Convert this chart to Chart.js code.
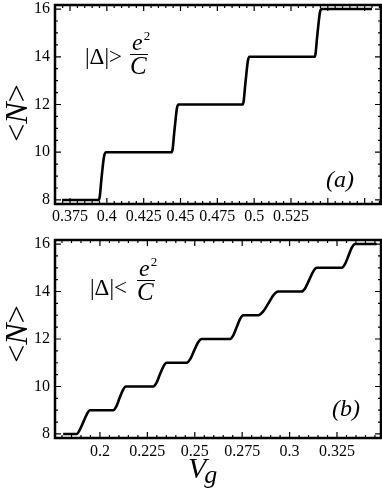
<!DOCTYPE html>
<html><head><meta charset="utf-8">
<script src="https://cdn.jsdelivr.net/npm/chart.js@4.4.0/dist/chart.umd.min.js"></script>
<style>
html,body{margin:0;padding:0;background:#fff;}
#wrap{position:relative;width:382px;height:490px;}
canvas{position:absolute;left:0;}
#chartA{top:0;}
#chartB{top:235px;}
</style></head><body>
<div id="wrap">
<canvas id="chartA" width="382" height="235"></canvas>
<canvas id="chartB" width="382" height="255"></canvas>
</div>
<script>
// panel (a): |Delta| > e^2/C, steps of 2
const vgA = [0.3696, 0.3945, 0.3952, 0.3962, 0.3972, 0.3982, 0.3994,
  0.4440, 0.4447, 0.4457, 0.4467, 0.4476, 0.4486,
  0.4922, 0.4929, 0.4939, 0.4949, 0.4958, 0.4968,
  0.5410, 0.5417, 0.5427, 0.5437, 0.5446, 0.5456, 0.5800];
const nA = [8, 8, 8.15, 8.8, 9.4, 9.85, 10,
  10, 10.15, 10.8, 11.4, 11.85, 12,
  12, 12.15, 12.8, 13.4, 13.85, 14,
  14, 14.15, 14.8, 15.4, 15.85, 16, 16];

// panel (b): |Delta| < e^2/C, steps of 1
const vgB = [0.1806, 0.1877, 0.1892, 0.1912, 0.1932, 0.1947,
  0.2070, 0.2086, 0.2103, 0.2121, 0.2137,
  0.2281, 0.2298, 0.2316, 0.2335, 0.2352,
  0.2457, 0.2476, 0.2496, 0.2517, 0.2536,
  0.2686, 0.2703, 0.2721, 0.2739, 0.2756,
  0.2835, 0.2860, 0.2888, 0.2915, 0.2940,
  0.3064, 0.3083, 0.3104, 0.3125, 0.3143,
  0.3275, 0.3292, 0.3310, 0.3328, 0.3345, 0.3459];
const nB = [8, 8, 8.15, 8.5, 8.85, 9,
  9, 9.15, 9.5, 9.85, 10,
  10, 10.15, 10.5, 10.85, 11,
  11, 11.15, 11.5, 11.85, 12,
  12, 12.15, 12.5, 12.85, 13,
  13, 13.15, 13.5, 13.85, 14,
  14, 14.15, 14.5, 14.85, 15,
  15, 15.15, 15.5, 15.85, 16, 16];

const xTicksA = [0.375, 0.4, 0.425, 0.45, 0.475, 0.5, 0.525];
const xTicksB = [0.2, 0.225, 0.25, 0.275, 0.3, 0.325];
const yTicks = [8, 10, 12, 14, 16];

const SERIF = "'Liberation Serif', 'DejaVu Serif', serif";
Chart.defaults.font.family = SERIF;
Chart.defaults.color = '#000';

// Mathematica style frame with inward ticks
const framePlugin = {
  id: 'frame',
  afterDraw(chart) {
    const {ctx, chartArea: a, scales: {x, y}} = chart;
    ctx.save();
    ctx.strokeStyle = '#000';
    ctx.lineWidth = 1.2;
    ctx.beginPath();
    const n = Math.round((x.max - x.min) / 0.005) + 1;
    const x0 = Math.ceil(x.min / 0.005 - 1e-6);
    for (let i = 0; i < n; i++) {
      const v = (x0 + i) * 0.005;
      if (v > x.max) break;
      const major = Math.abs(v / 0.025 - Math.round(v / 0.025)) < 1e-6;
      const px = x.getPixelForValue(v);
      const len = major ? 6 : 3;
      ctx.moveTo(px, a.bottom); ctx.lineTo(px, a.bottom - len);
      ctx.moveTo(px, a.top); ctx.lineTo(px, a.top + len);
    }
    for (let v = 8; v <= y.max; v += 0.5) {
      const major = v % 2 === 0;
      const py = y.getPixelForValue(v);
      const len = major ? 6 : 3;
      ctx.moveTo(a.left, py); ctx.lineTo(a.left + len, py);
      ctx.moveTo(a.right, py); ctx.lineTo(a.right - len, py);
    }
    ctx.stroke();
    ctx.lineWidth = 2.5;
    ctx.strokeRect(a.left, a.top, a.right - a.left, a.bottom - a.top);
    ctx.restore();
  }
};

function yTitle(ctx, cx, cy) {
  ctx.save();
  ctx.translate(cx, cy);
  ctx.rotate(-Math.PI / 2);
  ctx.textBaseline = 'middle';
  const up = '32px ' + SERIF, it = 'italic 32px ' + SERIF;
  ctx.font = up; const w1 = ctx.measureText('<').width;
  ctx.font = it; const w2 = ctx.measureText('N').width;
  const w = w1 * 2 + w2;
  ctx.font = up; ctx.fillText('<', -w / 2, 0);
  ctx.font = it; ctx.fillText('N', -w / 2 + w1, 0);
  ctx.font = up; ctx.fillText('>', -w / 2 + w1 + w2, 0);
  ctx.restore();
}

function note(ctx, sign, x, base, fx, eBase, cBase) {
  ctx.save();
  ctx.fillStyle = '#000';
  ctx.textBaseline = 'alphabetic';
  ctx.font = '23px ' + SERIF;
  ctx.fillText('|\u0394|' + sign, x, base);
  ctx.font = 'italic 24px ' + SERIF;
  ctx.fillText('e', fx + 2, eBase);
  const we = ctx.measureText('e').width;
  ctx.font = '13px ' + SERIF;
  ctx.fillText('2', fx + 3 + we, eBase - 10);
  ctx.font = 'italic 25px ' + SERIF;
  ctx.fillText('C', fx, cBase);
  ctx.fillRect(fx, eBase + 4, 18, 1);
  ctx.restore();
}

function panel(id, xs, ys, xMin, xMax, xTicks, xH, xPad, extra) {
  return new Chart(document.getElementById(id), {
    type: 'line',
    data: {
      datasets: [{
        data: xs.map((v, i) => ({x: v, y: ys[i]})),
        borderColor: '#000',
        borderWidth: 2.6,
        pointRadius: 0,
        cubicInterpolationMode: 'monotone',
        fill: false
      }]
    },
    options: {
      responsive: false,
      animation: false,
      layout: {padding: {top: 5, right: 1, left: 0, bottom: 0}},
      plugins: {legend: {display: false}, tooltip: {enabled: false}},
      scales: {
        x: {
          type: 'linear', min: xMin, max: xMax,
          grid: {display: false, drawTicks: false}, border: {display: false},
          afterBuildTicks: s => { s.ticks = xTicks.map(v => ({value: v})); },
          afterFit: s => { s.height = xH; s.paddingLeft = 0; s.paddingRight = 0; },
          ticks: {
            autoSkip: false, maxRotation: 0, padding: xPad,
            font: {size: 16},
            callback: v => String(+(+v).toFixed(3))
          }
        },
        y: {
          min: 7.83, max: 16.17,
          grid: {display: false, drawTicks: false}, border: {display: false},
          afterBuildTicks: s => { s.ticks = yTicks.map(v => ({value: v})); },
          afterFit: s => { s.width = 55; s.paddingTop = 0; s.paddingBottom = 0; },
          ticks: {padding: 5, font: {size: 16}}
        }
      }
    },
    plugins: [framePlugin, {id: 'text', afterDraw: extra}]
  });
}

panel('chartA', vgA, nA, 0.3648, 0.5861, xTicksA, 31, 3, chart => {
  const ctx = chart.ctx;
  yTitle(ctx, 19, 113);
  note(ctx, '>', 85, 64, 130, 50, 74);
  ctx.save();
  ctx.font = 'italic 24px ' + SERIF;
  ctx.fillText('(a)', 326, 187);
  ctx.restore();
});

panel('chartB', vgB, nB, 0.1763, 0.3482, xTicksB, 52, 4, chart => {
  const ctx = chart.ctx;
  yTitle(ctx, 19, 334 - 235);
  note(ctx, '<', 90, 295 - 235, 137, 276 - 235, 300 - 235);
  ctx.save();
  ctx.font = 'italic 24px ' + SERIF;
  ctx.fillText('(b)', 332, 416 - 235);
  ctx.font = 'italic 30px ' + SERIF;
  ctx.fillText('V', 188, 478 - 235);
  const wv = ctx.measureText('V').width;
  ctx.font = 'italic 26px ' + SERIF;
  ctx.fillText('g', 188 + wv - 2, 483 - 235);
  ctx.restore();
});
</script>
</body></html>
